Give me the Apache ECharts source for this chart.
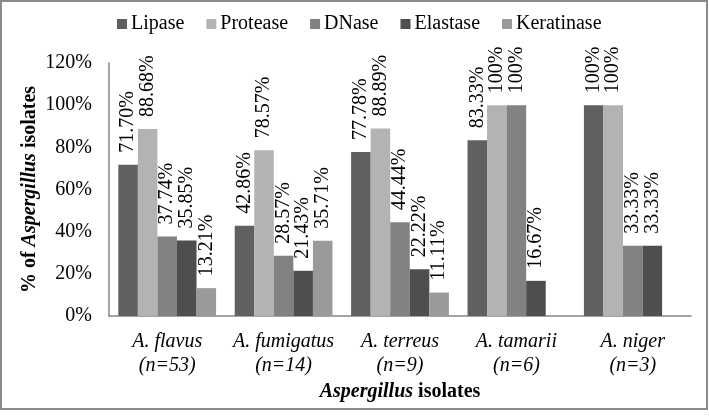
<!DOCTYPE html>
<html><head><meta charset="utf-8">
<script src="https://cdn.jsdelivr.net/npm/echarts@6/dist/echarts.min.js"></script>
<style>html,body{margin:0;padding:0;background:#fff}#c{width:709px;height:417px}</style>
</head><body><div id="c"></div>
<script>
const categories = ['A. flavus\n(n=53)', 'A. fumigatus\n(n=14)', 'A. terreus\n(n=9)', 'A. tamarii\n(n=6)', 'A. niger\n(n=3)'];
const lipase = [71.70, 42.86, 77.78, 83.33, 100];
const protease = [88.68, 78.57, 88.89, 100, 100];
const dnase = [37.74, 28.57, 44.44, 100, 33.33];
const elastase = [35.85, 21.43, 22.22, 16.67, 33.33];
const keratinase = [13.21, 35.71, 11.11, null, null];
const seriesNames = ['Lipase', 'Protease', 'DNase', 'Elastase', 'Keratinase'];
const seriesData = [lipase, protease, dnase, elastase, keratinase];
const colors = ['#606060', '#b3b3b3', '#828282', '#4e4e4e', '#9a9a9a'];
const yTicks = [0, 20, 40, 60, 80, 100, 120];

const FONT = '"Liberation Serif", "Times New Roman", serif';
const FS = 20;
const chart = echarts.init(document.getElementById('c'));
chart.setOption({
  animation: false,
  color: colors,
  textStyle: { fontFamily: FONT },
  graphic: [{ type: 'rect', shape: { x: 1, y: 1, width: 706, height: 408 }, style: { fill: 'none', stroke: '#8a8a8a', lineWidth: 2 }, silent: true }],
  legend: {
    top: 9, left: 112,
    itemWidth: 10, itemHeight: 10, itemGap: 22,
    icon: 'rect',
    textStyle: { fontFamily: FONT, fontSize: FS, color: '#000', padding: [0, 0, 0, -1] },
    data: seriesNames
  },
  grid: { left: 109, right: 18, top: 63, bottom: 101 },
  xAxis: {
    type: 'category', data: categories,
    axisTick: { show: false },
    axisLine: { lineStyle: { color: '#868686', width: 1.5 } },
    axisLabel: { fontFamily: FONT, fontSize: FS, fontStyle: 'italic', color: '#000', lineHeight: 24, margin: 14, interval: 0 },
    name: '{bi|Aspergillus}{b| isolates}', nameLocation: 'middle', nameGap: 66, nameMoveOverlap: false,
    nameTextStyle: { rich: {
      bi: { fontFamily: FONT, fontSize: FS, fontWeight: 'bold', fontStyle: 'italic', color: '#000' },
      b: { fontFamily: FONT, fontSize: FS, fontWeight: 'bold', color: '#000' } } }
  },
  yAxis: {
    type: 'value', min: yTicks[0], max: yTicks[yTicks.length - 1], interval: 20,
    splitLine: { show: false },
    axisTick: { show: false },
    axisLine: { show: true, lineStyle: { color: '#868686', width: 1.5 } },
    axisLabel: { fontFamily: FONT, fontSize: FS, color: '#000', margin: 17, formatter: '{value}%' },
    name: '{b|% of }{bi|Aspergillus}{b| isolates}', nameLocation: 'middle', nameGap: 69, nameRotate: 90, nameMoveOverlap: false,
    nameTextStyle: { rich: {
      bi: { fontFamily: FONT, fontSize: FS, fontWeight: 'bold', fontStyle: 'italic', color: '#000' },
      b: { fontFamily: FONT, fontSize: FS, fontWeight: 'bold', color: '#000' } } }
  },
  series: seriesNames.map((n, i) => ({
    name: n, type: 'bar', data: seriesData[i],
    barGap: '0%', barCategoryGap: '16%',
    label: {
      show: true, position: 'top', rotate: 90, distance: 12,
      align: 'left', verticalAlign: 'middle',
      fontFamily: FONT, fontSize: FS, color: '#000',
      formatter: p => p.value == null ? '' : (p.value === 100 ? '100%' : p.value.toFixed(2) + '%')
    }
  }))
});
</script></body></html>
